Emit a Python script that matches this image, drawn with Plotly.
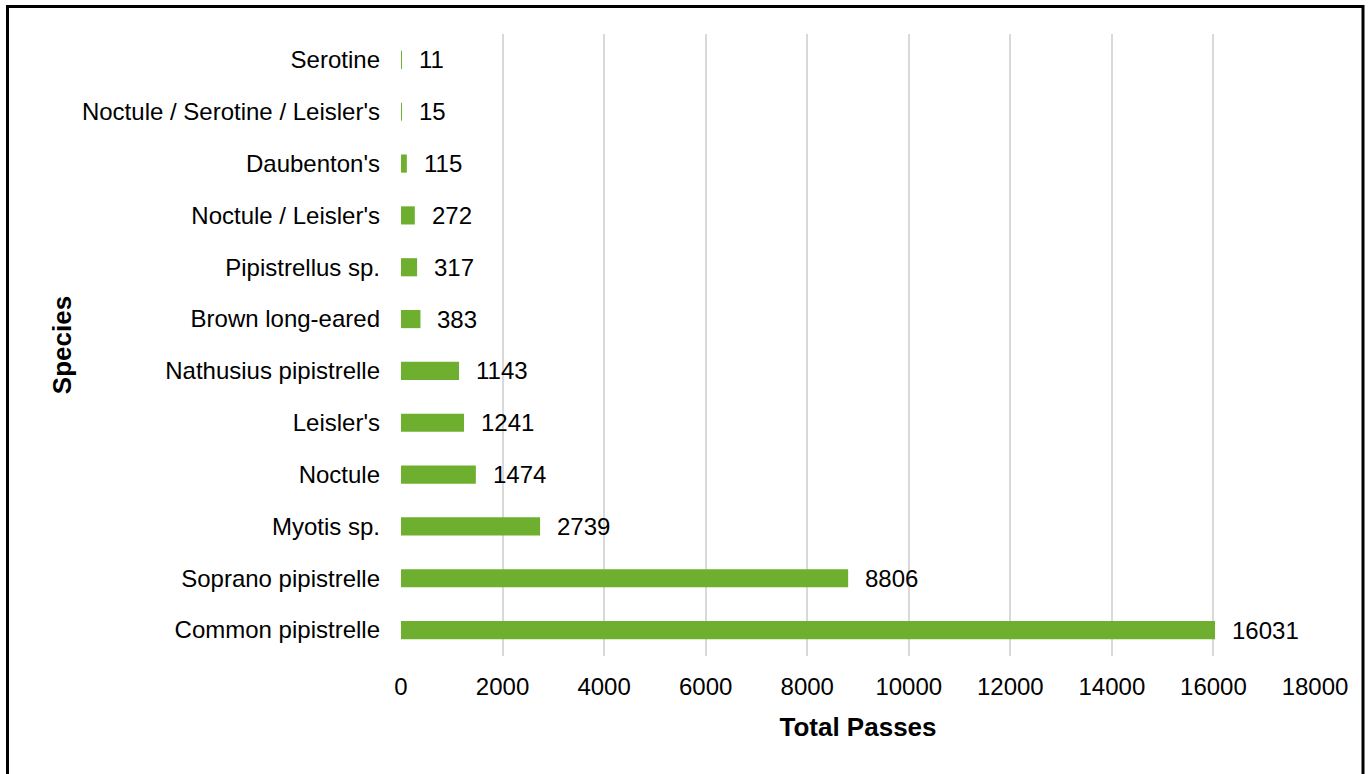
import plotly.graph_objects as go

species = ["Common pipistrelle", "Soprano pipistrelle", "Myotis sp.", "Noctule", "Leisler's",
           "Nathusius pipistrelle", "Brown long-eared", "Pipistrellus sp.", "Noctule / Leisler's",
           "Daubenton's", "Noctule / Serotine / Leisler's", "Serotine"]
passes = [16031, 8806, 2739, 1474, 1241, 1143, 383, 317, 272, 115, 15, 11]

W, H = 1369, 774
ML, MR, MT, MB = 401, 54, 34, 118
PW, PH = W - ML - MR, H - MT - MB

green = "#6FAF2F"
font = "Liberation Sans, Arial, sans-serif"

fig = go.Figure(go.Bar(
    x=passes, y=species, orientation="h",
    marker=dict(color=green, line=dict(width=0)),
    width=0.35, hoverinfo="x+y",
))

for v, s in zip(passes, species):
    fig.add_annotation(x=v, y=s, text=str(v), showarrow=False, xanchor="left",
                       xshift=15, font=dict(size=24, color="#000000", family=font))

def px_x(p):
    return (p - ML) / PW

def px_y(p):
    return (H - MB - p) / PH

fig.add_shape(type="rect", xref="paper", yref="paper",
              x0=px_x(7.5), x1=px_x(1363), y0=px_y(790), y1=px_y(6.5),
              line=dict(color="#000000", width=3), fillcolor="rgba(0,0,0,0)", layer="above")

fig.update_layout(
    width=W, height=H,
    margin=dict(l=ML, r=MR, t=MT, b=MB, pad=0),
    paper_bgcolor="white", plot_bgcolor="white",
    showlegend=False,
    font=dict(family=font, size=24, color="#000000"),
    xaxis=dict(range=[0, 18000], dtick=2000, tick0=0, tickformat="d", showgrid=True,
               gridcolor="#D9D9D9", gridwidth=2, zeroline=False, showline=False,
               ticks="", ticklabelstandoff=14,
               tickfont=dict(size=24, family=font),
               title=dict(text="<b>Total Passes</b>", font=dict(size=26, family=font), standoff=18)),
    yaxis=dict(categoryorder="array", categoryarray=species, showgrid=False,
               zeroline=False, showline=False, ticks="", ticklabelstandoff=20,
               tickfont=dict(size=24, family=font),
               title=dict(text="<b>Species</b>", font=dict(size=26, family=font), standoff=2)),
)

fig.write_html("out.html", config={"displayModeBar": False},
               post_script="document.body.style.margin='0';document.body.style.overflow='hidden';")
